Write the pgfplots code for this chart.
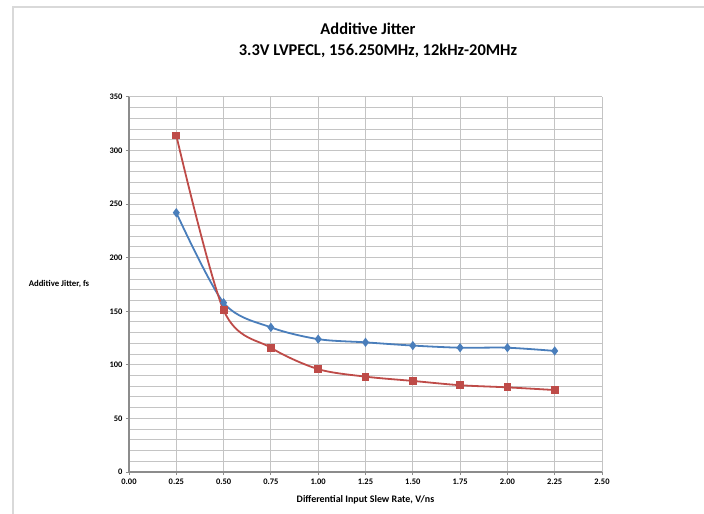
\documentclass[border=0pt]{standalone}
\usepackage{fontspec}
\setmainfont{Carlito}
\usepackage{pgfplots}
\pgfplotsset{compat=1.18}
\definecolor{bser}{HTML}{4A7EBB}
\definecolor{rser}{HTML}{BE4B48}
\definecolor{gridc}{HTML}{C4C4C4}
\definecolor{axc}{HTML}{8C8C8C}
\begin{document}
\begin{tikzpicture}
\path[use as bounding box] (0,0) rectangle (704bp,514bp);
\draw[gray!30,line width=2bp] (13bp,0) -- (13bp,507bp) -- (704bp,507bp);
\node[font=\bfseries\fontsize{16.5}{18}\selectfont] at (368bp,485bp) {Additive Jitter};
\node[font=\bfseries\fontsize{16.5}{18}\selectfont] at (378bp,463bp) {3.3V LVPECL, 156.250MHz, 12kHz-20MHz};
\begin{axis}[
  at={(129bp,42bp)}, anchor=south west,
  scale only axis, width=473bp, height=375bp,
  xmin=0, xmax=2.5, ymin=0, ymax=350,
  xtick={0,0.25,...,2.5}, ytick={0,50,...,350},
  minor ytick={10,20,...,340},
  grid=both,
  major grid style={gridc,line width=1bp},
  minor grid style={gridc,line width=1bp},
  axis lines=left,
  axis line style={axc,line width=1.8bp,-},
  tick style={axc,line width=1bp},
  tick align=outside, major tick length=3bp, minor tick length=0pt,
  ticklabel style={font=\bfseries\fontsize{8.5}{9}\selectfont},
  /pgf/number format/assume math mode=true,
  xticklabel style={/pgf/number format/.cd,fixed,fixed zerofill,precision=2},
  yticklabel style={/pgf/number format/.cd,fixed,precision=0},
  xlabel={Differential Input Slew Rate, V/ns},
  xlabel style={font=\bfseries\fontsize{10}{11}\selectfont, at={(0.5,-0.075)}, anchor=center},
  ylabel={Additive Jitter, fs},
  ylabel style={font=\bfseries\fontsize{8.8}{10}\selectfont, rotate=-90, at={(-0.148,0.5)}, anchor=center},
  clip=false,
]
\addplot[bser, line width=1.8bp, smooth, tension=0.5, mark=diamond*, mark size=3.2bp, mark options={fill=bser}]
coordinates {(0.25,242)(0.5,158)(0.75,135)(1.0,124)(1.25,121)(1.5,118)(1.75,116)(2.0,116)(2.25,113)};
\addplot[rser, line width=1.8bp, smooth, tension=0.5, mark=square*, mark size=3bp, mark options={fill=rser}]
coordinates {(0.25,314)(0.5,151)(0.75,116)(1.0,96)(1.25,89)(1.5,85)(1.75,81)(2.0,79)(2.25,76.5)};
\end{axis}
\end{tikzpicture}
\end{document}
